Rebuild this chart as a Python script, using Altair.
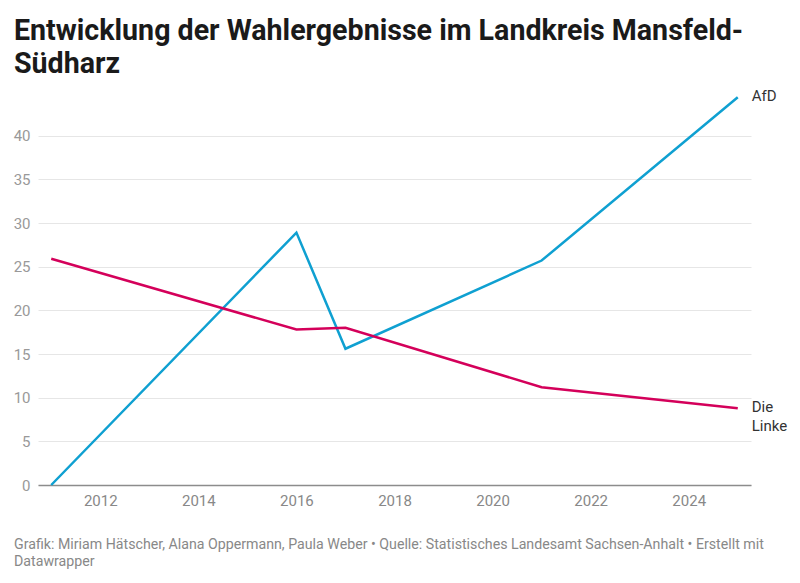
import altair as alt
import pandas as pd

years = [2011, 2016, 2017, 2021, 2025]
afd = [0.0, 28.9, 15.6, 25.7, 44.4]
linke = [25.9, 17.8, 18.0, 11.2, 8.8]
parties = ["AfD", "Die Linke"]
label_texts = ["AfD", "Die\nLinke"]
colors = ["#0fa0d1", "#d4005a"]
x_ticks = [2012, 2014, 2016, 2018, 2020, 2022, 2024]
y_ticks = [0, 5, 10, 15, 20, 25, 30, 35, 40]

title_lines = ["Entwicklung der Wahlergebnisse im Landkreis Mansfeld-", "Südharz"]
footer = ("Grafik: Miriam Hätscher, Alana Oppermann, Paula Weber • Quelle: Statistisches "
          "Landesamt Sachsen-Anhalt • Erstellt mit\nDatawrapper")

rows = []
for y, a, l in zip(years, afd, linke):
    rows.append({"Jahr": y, "Partei": "AfD", "Wert": a})
    rows.append({"Jahr": y, "Partei": "Die Linke", "Wert": l})
df = pd.DataFrame(rows)

labels = pd.DataFrame({
    "Jahr": [years[-1], years[-1]],
    "Partei": parties,
    "Wert": [afd[-1], linke[-1]],
    "Label": label_texts,
})

W, H = 713, 393

x = alt.X("Jahr:Q",
          scale=alt.Scale(domain=[2010.73, 2025.27], nice=False, zero=False),
          axis=alt.Axis(values=x_ticks, format="d", title=None, grid=False,
                        ticks=False, domain=True, domainColor="#8c8c8c",
                        domainWidth=1.5, labelColor="#888888", labelFontSize=15,
                        labelPadding=8))
y = alt.Y("Wert:Q",
          scale=alt.Scale(domain=[0, 45], nice=False),
          axis=alt.Axis(values=y_ticks, title=None, grid=True, gridColor="#e6e6e6",
                        ticks=False, domain=False, labelColor="#999999",
                        labelFontSize=15, labelPadding=8))
color = alt.Color("Partei:N", scale=alt.Scale(domain=parties, range=colors), legend=None)

lines = alt.Chart(df).mark_line(strokeWidth=2.5).encode(x=x, y=y, color=color)

end_labels = alt.Chart(labels).mark_text(
    align="left", baseline="top", dx=14, dy=-8, fontSize=15, color="#333333",
    lineBreak="\n", lineHeight=19,
).encode(x="Jahr:Q", y="Wert:Q", text="Label:N")

foot = alt.Chart(pd.DataFrame({"t": [footer]})).mark_text(
    align="left", baseline="top", fontSize=14.2, color="#888888",
    lineBreak="\n", lineHeight=17,
).encode(x=alt.value(-24), y=alt.value(446), text="t:N")

chart = alt.layer(lines, end_labels, foot).properties(
    width=W, height=H,
    title=alt.TitleParams(text=title_lines, anchor="start", frame="group",
                          fontSize=28.6, fontWeight="bold", color="#1a1a1a",
                          lineHeight=33, dx=-24, offset=11),
    autosize=alt.AutoSizeParams(type="none"),
    padding={"left": 30, "top": 84, "right": 41, "bottom": 90},
).configure(font="Roboto").configure_view(stroke=None)

chart.save("out.html", embed_options={"renderer": "svg", "actions": False})
